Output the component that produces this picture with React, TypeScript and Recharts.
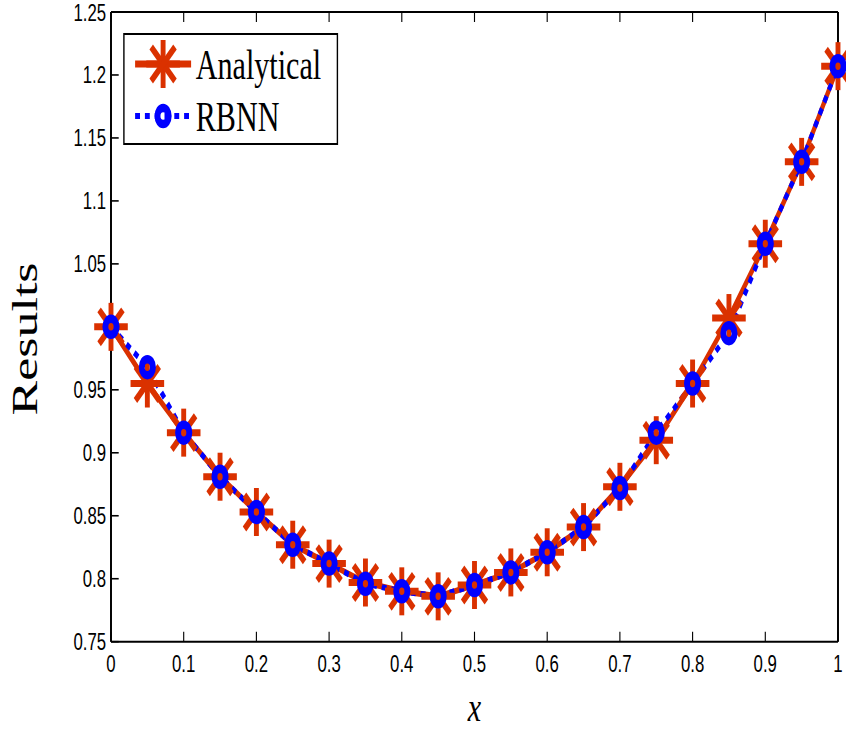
import React from 'react';
import { LineChart, Line, XAxis, YAxis, Legend, Label } from 'recharts';

const xValues = [0, 0.05, 0.1, 0.15, 0.2, 0.25, 0.3, 0.35, 0.4, 0.45, 0.5, 0.55, 0.6, 0.65, 0.7, 0.75, 0.8, 0.85, 0.9, 0.95, 1];
const analytical = [1.0, 0.955, 0.916, 0.881, 0.853, 0.827, 0.812, 0.797, 0.79, 0.786, 0.795, 0.805, 0.821, 0.841, 0.873, 0.91, 0.955, 1.007, 1.066, 1.131, 1.207];
const rbnn = [1.0, 0.968, 0.916, 0.881, 0.853, 0.827, 0.812, 0.796, 0.79, 0.786, 0.795, 0.805, 0.821, 0.841, 0.872, 0.916, 0.955, 0.995, 1.066, 1.131, 1.207];
const xTicks = [0, 0.1, 0.2, 0.3, 0.4, 0.5, 0.6, 0.7, 0.8, 0.9, 1];
const yTicks = [0.75, 0.8, 0.85, 0.9, 0.95, 1, 1.05, 1.1, 1.15, 1.2, 1.25];

const RED = '#DA3100';
const BLUE = '#0000FF';

// the reference is squeezed sideways, so draw wide and scale x down
const SX = 0.7;
const W = 846 / SX;
const H = 732;

const data = xValues.map((x, i) => ({ x, analytical: analytical[i], rbnn: rbnn[i] }));

const Asterisk = ({ cx, cy, a = 24 }: { cx: number; cy: number; a?: number }) => {
  const d = a * 0.7071;
  return (
    <g stroke={RED} strokeWidth={7} strokeLinecap="butt">
      <line x1={cx - a} y1={cy} x2={cx + a} y2={cy} />
      <line x1={cx} y1={cy - a} x2={cx} y2={cy + a} />
      <line x1={cx - d} y1={cy - d} x2={cx + d} y2={cy + d} />
      <line x1={cx - d} y1={cy + d} x2={cx + d} y2={cy - d} />
    </g>
  );
};

const Ring = ({ cx, cy }: { cx: number; cy: number }) => (
  <circle cx={cx} cy={cy} r={8} fill="none" stroke={BLUE} strokeWidth={8.5} />
);

const renderStar = (p: any) => <Asterisk key={`s-${p.index}`} cx={p.cx} cy={p.cy} />;
const renderRing = (p: any) => <Ring key={`r-${p.index}`} cx={p.cx} cy={p.cy} />;

const fmtY = (v: number) => (v === 1 ? '' : String(v));
const fmtX = (v: number) => String(v);
const blank = () => '';

const tickFont = { fontFamily: 'Liberation Sans, Arial, sans-serif', fontSize: 24, fill: '#000' };

const LegendBox = () => (
  <div
    style={{
      width: 307,
      height: 112,
      boxSizing: 'border-box',
      borderTop: '2px solid #000',
      borderBottom: '2px solid #000',
      borderLeft: '2.6px solid #000',
      borderRight: '2.6px solid #000',
      background: '#fff',
      position: 'relative',
      fontFamily: 'Liberation Serif, Times New Roman, serif',
      fontSize: 43,
      color: '#000',
    }}
  >
    <svg width={100} height={108} style={{ position: 'absolute', left: 0, top: 0 }}>
      <line x1={15} y1={29} x2={95} y2={29} stroke={RED} strokeWidth={7} />
      <Asterisk cx={55} cy={29} />
      <line x1={15} y1={81} x2={95} y2={81} stroke={BLUE} strokeWidth={6} strokeDasharray="7 7" />
      <Ring cx={55} cy={81} />
    </svg>
    <div style={{ position: 'absolute', left: 102, top: 29, transform: 'translateY(-50%)', lineHeight: 1 }}>Analytical</div>
    <div style={{ position: 'absolute', left: 102, top: 81, transform: 'translateY(-50%)', lineHeight: 1 }}>RBNN</div>
  </div>
);

const renderYLabel = () => (
  <text
    x={36}
    y={339}
    transform="rotate(-90, 36, 339)"
    textAnchor="middle"
    dominantBaseline="central"
    fontFamily="Liberation Serif, Times New Roman, serif"
    fontSize={52}
    fill="#000"
  >
    Results
  </text>
);

export default function App() {
  return (
    <div style={{ position: 'absolute', left: 0, top: 0, width: 846, height: 732, overflow: 'hidden', background: '#fff' }}>
      <div style={{ width: W, height: H, transform: `scaleX(${SX})`, transformOrigin: '0 0' }}>
        <LineChart width={W} height={H} data={data} margin={{ top: 10, right: 9.43, bottom: 30.3, left: 98.57 }}>
          <XAxis
            dataKey="x"
            type="number"
            domain={[0, 1]}
            ticks={xTicks}
            interval={0}
            tickFormatter={fmtX}
            height={60}
            tickSize={-10}
            tickMargin={23}
            tick={tickFont}
            axisLine={{ stroke: '#000', strokeWidth: 2 }}
            tickLine={{ stroke: '#000', strokeWidth: 1.6 }}
          >
            <Label
              value="x"
              position="bottom"
              offset={-11}
              style={{ fontFamily: 'Liberation Serif, Times New Roman, serif', fontStyle: 'italic', fontSize: 43, fill: '#000' }}
            />
          </XAxis>
          <XAxis
            xAxisId="top"
            orientation="top"
            dataKey="x"
            type="number"
            domain={[0, 1]}
            ticks={xTicks}
            interval={0}
            tickFormatter={blank}
            height={2}
            tickSize={-10}
            axisLine={{ stroke: '#000', strokeWidth: 2 }}
            tickLine={{ stroke: '#000', strokeWidth: 1.6 }}
          />
          <YAxis
            type="number"
            domain={[0.75, 1.25]}
            ticks={yTicks}
            interval={0}
            tickFormatter={fmtY}
            width={60}
            tickSize={-11}
            tickMargin={18}
            tick={tickFont}
            axisLine={{ stroke: '#000', strokeWidth: 2.8 }}
            tickLine={{ stroke: '#000', strokeWidth: 1.6 }}
          >
            <Label content={renderYLabel} />
          </YAxis>
          <YAxis
            yAxisId="right"
            orientation="right"
            type="number"
            domain={[0.75, 1.25]}
            ticks={yTicks}
            interval={0}
            tickFormatter={blank}
            width={2}
            tickSize={-11}
            axisLine={{ stroke: '#000', strokeWidth: 2.8 }}
            tickLine={{ stroke: '#000', strokeWidth: 1.6 }}
          />
          <Legend
            layout="horizontal"
            verticalAlign="middle"
            align="center"
            content={LegendBox}
            wrapperStyle={{ left: 175.7, top: 33, width: 307, height: 112 }}
          />
          <Line
            type="linear"
            dataKey="analytical"
            name="Analytical"
            stroke={RED}
            strokeWidth={6}
            dot={renderStar}
            activeDot={false}
            isAnimationActive={false}
          />
          <Line
            type="linear"
            dataKey="rbnn"
            name="RBNN"
            stroke={BLUE}
            strokeWidth={6}
            strokeDasharray="7 7"
            dot={renderRing}
            activeDot={false}
            isAnimationActive={false}
          />
        </LineChart>
      </div>
    </div>
  );
}
